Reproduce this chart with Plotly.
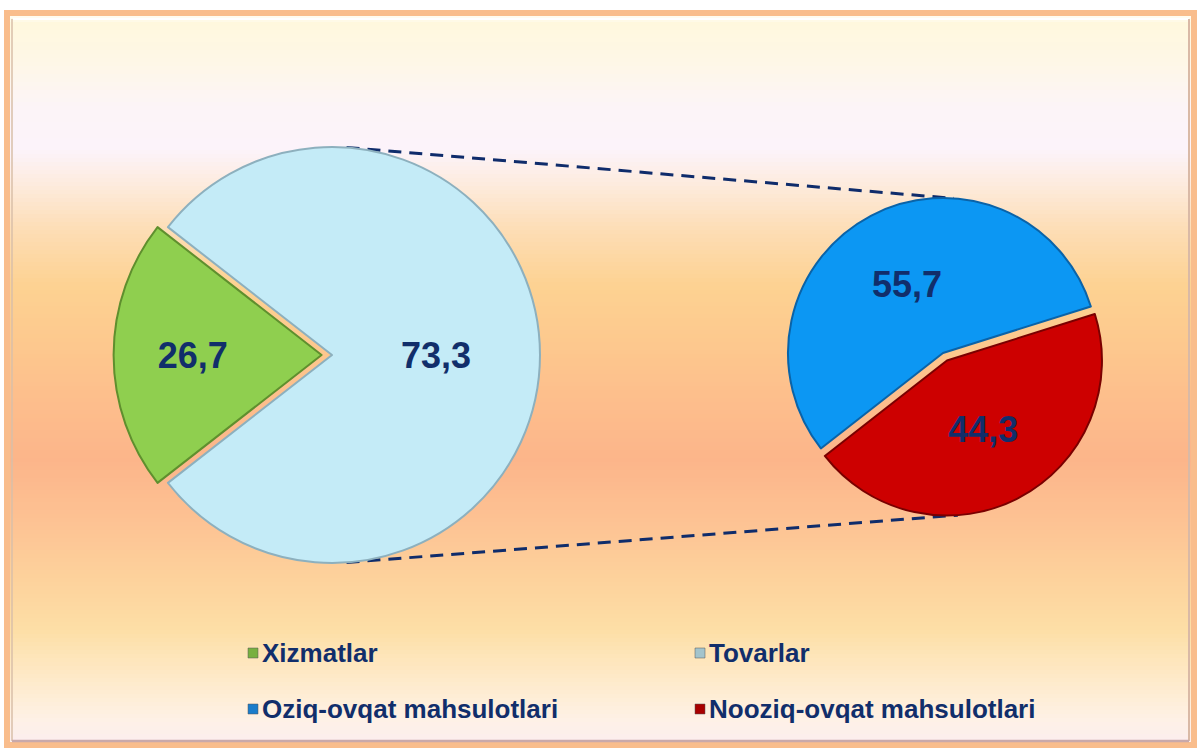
import math
import plotly.graph_objects as go

# --- data -------------------------------------------------------------
main_labels = ['Xizmatlar', 'Tovarlar']
main_shares = [26.7, 73.3]
sub_labels = ['Oziq-ovqat mahsulotlari', 'Nooziq-ovqat mahsulotlari']
sub_shares = [55.7, 44.3]

main_colors = ['#8FCF4F', '#C4EBF7']
sub_colors = ['#0C97F3', '#CD0000']
main_edges = ['#5F8F2E', '#8DB0BE']
sub_edges = ['#0A63A8', '#7A0000']
legend_marks = ['#78B040', '#A3C4CC', '#1A7CCB', '#A80000']
label_color = '#112E6B'

W, H = 1200, 751


def fmt(v):
    return f'{v:.1f}'.replace('.', ',')


def domain(cx, cy, r, pull):
    # pie box (px) that gives radius r at centre (cx, cy) once plotly shrinks for pull
    half = r * (1 + pull)
    return dict(x=[(cx - half) / W, (cx + half) / W],
                y=[1 - (cy + half) / H, 1 - (cy - half) / H])


# geometry of the two pies (pixels)
L_CX, L_CY, L_R, L_PULL = 332, 355, 208, 0.05
R_CX, R_CY, R_R, R_PULL = 943, 353, 155, 0.055

# excel pie-of-pie: the "other" slice of the first pie is the sum of the second pie
left_values = [main_shares[0], sum(sub_shares)]
green_half = 180 * left_values[0] / sum(left_values)
left_rot = 270 - green_half
right_rot = 232

fig = go.Figure()

fig.add_trace(go.Pie(
    values=left_values,
    labels=main_labels,
    text=[fmt(v) for v in main_shares],
    textinfo='text',
    textposition='inside',
    insidetextorientation='horizontal',
    sort=False,
    direction='clockwise',
    rotation=left_rot,
    pull=[L_PULL, 0],
    marker=dict(colors=main_colors, line=dict(color=main_edges, width=2)),
    textfont=dict(family='Liberation Sans, Arial', size=36, color=label_color, weight='bold'),
    domain=domain(L_CX, L_CY, L_R, L_PULL),
    hoverinfo='skip',
    showlegend=False,
))

fig.add_trace(go.Pie(
    values=sub_shares,
    labels=sub_labels,
    text=[fmt(v) for v in sub_shares],
    textinfo='text',
    textposition='inside',
    insidetextorientation='horizontal',
    sort=False,
    direction='clockwise',
    rotation=right_rot,
    pull=[0, R_PULL],
    marker=dict(colors=sub_colors, line=dict(color=sub_edges, width=2)),
    textfont=dict(family='Liberation Sans, Arial', size=36, color=label_color, weight='bold'),
    domain=domain(R_CX, R_CY, R_R, R_PULL),
    hoverinfo='skip',
    showlegend=False,
))

shapes = []

# === background gradient (bands)
stops = [(14, '#FFFDF4'), (24, '#FFF8DE'), (60, '#FEF7E6'), (110, '#FCF4F8'),
         (150, '#FCF3FA'), (185, '#FDEBDD'), (230, '#FDDDB5'), (285, '#FDD292'),
         (340, '#FDC98E'), (400, '#FDBE8C'), (460, '#FCB58A'), (520, '#FDC293'),
         (580, '#FDD29C'), (630, '#FDDFA6'), (680, '#FEEACA'), (720, '#FEF1E6'),
         (744, '#FBEDEF')]


def hex_rgb(h):
    return [int(h[i:i + 2], 16) for i in (1, 3, 5)]


def color_at(y):
    for (y0, c0), (y1, c1) in zip(stops[:-1], stops[1:]):
        if y0 <= y <= y1:
            t = (y - y0) / (y1 - y0)
            a, b = hex_rgb(c0), hex_rgb(c1)
            return 'rgb(%d,%d,%d)' % tuple(round(a[k] + (b[k] - a[k]) * t) for k in range(3))
    return stops[-1][1]


top, bot, step = 14, 744, 4
y = top
while y < bot:
    y2 = min(y + step + 0.6, bot)
    shapes.append(dict(type='rect', xref='paper', yref='paper', layer='below',
                       x0=10 / W, x1=1191 / W, y0=1 - y2 / H, y1=1 - y / H,
                       fillcolor=color_at(y + step / 2), line=dict(width=0)))
    y += step

# === frame
shapes.append(dict(type='rect', xref='paper', yref='paper', layer='below',
                   x0=7 / W, x1=1194 / W, y0=1 - 745 / H, y1=1 - 13 / H,
                   line=dict(color='#F9BD8C', width=6)))
shapes.append(dict(type='line', xref='paper', yref='paper', layer='below',
                   x0=13 / W, x1=1189 / W, y0=1 - 19 / H, y1=1 - 19 / H,
                   line=dict(color='#FFFFFF', width=2)))
shapes.append(dict(type='line', xref='paper', yref='paper', layer='below',
                   x0=12 / W, x1=12 / W, y0=1 - 741 / H, y1=1 - 19 / H,
                   line=dict(color='#D8BFA8', width=1.5)))
shapes.append(dict(type='line', xref='paper', yref='paper', layer='below',
                   x0=1189 / W, x1=1189 / W, y0=1 - 741 / H, y1=1 - 19 / H,
                   line=dict(color='#D9B9A6', width=2)))
shapes.append(dict(type='line', xref='paper', yref='paper', layer='below',
                   x0=12 / W, x1=1189 / W, y0=1 - 741 / H, y1=1 - 741 / H,
                   line=dict(color='#C9A9AA', width=2.5)))

# === connector lines (top and bottom tangents between pies)
a = math.radians(4)
red_dx = R_PULL * R_R * math.sin(math.radians(152))
red_dy = R_PULL * R_R * -math.cos(math.radians(152))
connectors = [
    ((L_CX + L_R * math.sin(a), L_CY - L_R * math.cos(a)),
     (R_CX + R_R * math.sin(a), R_CY - R_R * math.cos(a))),
    ((L_CX + L_R * math.sin(a), L_CY + L_R * math.cos(a)),
     (R_CX + red_dx + R_R * math.sin(a), R_CY + red_dy + R_R * math.cos(a))),
]
for (x0, y0), (x1, y1) in connectors:
    shapes.append(dict(type='line', xref='paper', yref='paper', layer='below',
                       x0=x0 / W, y0=1 - y0 / H, x1=x1 / W, y1=1 - y1 / H,
                       line=dict(color='#0F2C6B', width=3, dash='13px,8px')))

# === legend (2 x 2)
legend_labels = [main_labels[0], main_labels[1], sub_labels[0], sub_labels[1]]
col_x = [248, 695]
row_y = [653, 709]
annotations = []
for i, lab in enumerate(legend_labels):
    lx = col_x[i % 2]
    ly = row_y[i // 2]
    shapes.append(dict(type='rect', xref='paper', yref='paper',
                       x0=lx / W, x1=(lx + 10) / W, y0=1 - (ly + 5) / H, y1=1 - (ly - 5) / H,
                       fillcolor=legend_marks[i], line=dict(color='#555555', width=0.5)))
    annotations.append(dict(xref='paper', yref='paper', x=(lx + 12) / W, y=1 - ly / H,
                            xanchor='left', yanchor='middle', showarrow=False, text=lab,
                            font=dict(family='Liberation Sans, Arial', size=26,
                                      color=label_color, weight='bold')))

fig.update_layout(
    width=W,
    height=H,
    margin=dict(l=0, r=0, t=0, b=0),
    paper_bgcolor='white',
    plot_bgcolor='white',
    shapes=shapes,
    annotations=annotations,
    showlegend=False,
)

# page body margin would push the figure 8px right/down
fig.write_html('out.html', config={'displayModeBar': False},
               post_script="document.body.style.margin='0';")
